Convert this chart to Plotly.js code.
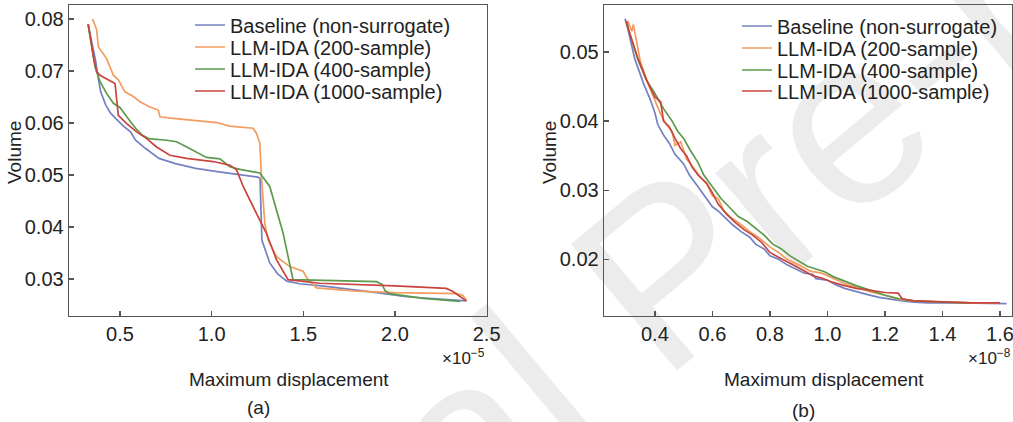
<!DOCTYPE html>
<html>
<head>
<meta charset="utf-8">
<script src="https://cdn.plot.ly/plotly-3.0.1.min.js"></script>
<style>html,body{margin:0;padding:0;background:#fff;}#chart{width:1013px;height:422px;}</style>
</head>
<body>
<div id="chart"></div>
<script>
// ---------- Data (x in units of the axis multiplier) ----------
const seriesNames = ["Baseline (non-surrogate)", "LLM-IDA (200-sample)", "LLM-IDA (400-sample)", "LLM-IDA (1000-sample)"];
const seriesColors = ["#7482c2", "#f29c5e", "#5c9b4c", "#c9443d"];

// Panel (a): Maximum displacement ×1e-5 vs Volume
const aBaseX = [0.326,0.368,0.380,0.395,0.422,0.449,0.476,0.522,0.558,0.585,0.640,0.713,0.803,0.913,1.040,1.150,1.252,1.264,1.274,1.317,1.360,1.410,1.481,1.600,1.753,1.900,2.062,2.220,2.391];
const aBaseY = [0.0790,0.0718,0.0689,0.0660,0.0635,0.0619,0.0609,0.0593,0.0583,0.0567,0.0551,0.0532,0.0522,0.0513,0.0506,0.0501,0.0496,0.0494,0.0375,0.0331,0.0310,0.0296,0.0291,0.0287,0.0281,0.0274,0.0266,0.0262,0.0258];

const a200X = [0.351,0.373,0.382,0.427,0.464,0.491,0.527,0.573,0.609,0.663,0.709,0.718,0.790,0.936,1.027,1.099,1.226,1.245,1.263,1.272,1.290,1.308,1.354,1.426,1.499,1.526,1.572,1.790,2.000,2.340,2.372,2.391];
const a200Y = [0.0800,0.0779,0.0747,0.0724,0.0692,0.0683,0.0660,0.0651,0.0641,0.0631,0.0625,0.0612,0.0609,0.0604,0.0601,0.0594,0.0590,0.0580,0.0561,0.0495,0.0407,0.0375,0.0343,0.0324,0.0315,0.0299,0.0283,0.0277,0.0274,0.0272,0.0268,0.0258];

const a400X = [0.326,0.364,0.391,0.427,0.464,0.500,0.537,0.585,0.621,0.658,0.754,0.809,0.864,0.936,0.972,1.045,1.099,1.154,1.263,1.317,1.390,1.444,1.600,1.899,1.930,1.945,1.970,2.153,2.356];
const a400Y = [0.0790,0.0708,0.0680,0.0657,0.0638,0.0630,0.0612,0.0590,0.0577,0.0570,0.0567,0.0564,0.0554,0.0540,0.0534,0.0531,0.0516,0.0511,0.0504,0.0478,0.0388,0.0299,0.0298,0.0295,0.0290,0.0278,0.0272,0.0263,0.0257];

const a1000X = [0.327,0.355,0.373,0.391,0.473,0.482,0.491,0.537,0.591,0.646,0.700,0.772,0.864,1.008,1.100,1.136,1.172,1.245,1.299,1.354,1.417,1.590,2.000,2.280,2.316,2.389];
const a1000Y = [0.0790,0.0728,0.0699,0.0692,0.0676,0.0644,0.0615,0.0599,0.0583,0.0570,0.0554,0.0538,0.0532,0.0526,0.0519,0.0510,0.0478,0.0426,0.0388,0.0337,0.0299,0.0292,0.0287,0.0282,0.0276,0.0258];

// Panel (b): Maximum displacement ×1e-8 vs Volume
const bBaseX = [0.296,0.305,0.330,0.360,0.385,0.400,0.410,0.430,0.450,0.470,0.500,0.520,0.550,0.580,0.600,0.620,0.650,0.670,0.700,0.730,0.750,0.780,0.800,0.830,0.860,0.890,0.920,0.950,0.960,1.000,1.030,1.060,1.100,1.140,1.180,1.220,1.260,1.300,1.350,1.450,1.550,1.623];
const bBaseY = [0.0548,0.0535,0.0490,0.0455,0.0430,0.0412,0.0395,0.0380,0.0368,0.0352,0.0338,0.0322,0.0305,0.0288,0.0276,0.0270,0.0258,0.0250,0.0240,0.0232,0.0222,0.0215,0.0205,0.0200,0.0192,0.0186,0.0180,0.0178,0.0172,0.0170,0.0163,0.0158,0.0153,0.0149,0.0145,0.0142,0.0140,0.0138,0.0137,0.0137,0.0136,0.0136];

const b200X = [0.305,0.320,0.325,0.350,0.380,0.400,0.420,0.440,0.460,0.470,0.490,0.510,0.530,0.560,0.580,0.600,0.620,0.640,0.660,0.700,0.730,0.760,0.800,0.830,0.860,0.900,0.940,0.980,1.020,1.060,1.100,1.150,1.200,1.250,1.300,1.400,1.500,1.600];
const b200Y = [0.0545,0.0530,0.0540,0.0485,0.0450,0.0430,0.0410,0.0395,0.0385,0.0365,0.0370,0.0345,0.0335,0.0318,0.0310,0.0292,0.0288,0.0270,0.0262,0.0250,0.0240,0.0232,0.0218,0.0210,0.0200,0.0192,0.0183,0.0180,0.0172,0.0165,0.0160,0.0153,0.0148,0.0142,0.0140,0.0138,0.0137,0.0137];

const b400X = [0.300,0.310,0.340,0.370,0.400,0.430,0.460,0.480,0.500,0.520,0.550,0.570,0.600,0.630,0.660,0.690,0.720,0.750,0.780,0.810,0.840,0.870,0.900,0.930,0.960,0.990,1.020,1.060,1.100,1.150,1.200,1.250,1.300,1.400,1.500];
const b400Y = [0.0545,0.0530,0.0490,0.0460,0.0440,0.0418,0.0400,0.0385,0.0375,0.0360,0.0340,0.0322,0.0305,0.0288,0.0275,0.0262,0.0255,0.0245,0.0235,0.0222,0.0215,0.0205,0.0198,0.0190,0.0186,0.0182,0.0175,0.0168,0.0162,0.0155,0.0148,0.0143,0.0140,0.0138,0.0137];

const b1000X = [0.300,0.310,0.340,0.370,0.400,0.420,0.430,0.450,0.470,0.490,0.510,0.530,0.550,0.580,0.600,0.620,0.650,0.680,0.710,0.740,0.770,0.800,0.830,0.860,0.890,0.920,0.950,0.980,1.010,1.050,1.100,1.150,1.200,1.246,1.260,1.300,1.400,1.500,1.600];
const b1000Y = [0.0545,0.0530,0.0492,0.0460,0.0435,0.0428,0.0400,0.0392,0.0375,0.0360,0.0350,0.0333,0.0322,0.0310,0.0296,0.0280,0.0265,0.0253,0.0243,0.0235,0.0225,0.0210,0.0203,0.0197,0.0190,0.0183,0.0176,0.0173,0.0168,0.0163,0.0158,0.0155,0.0152,0.0151,0.0143,0.0140,0.0138,0.0137,0.0137];

const aTickVals = [0.5, 1.0, 1.5, 2.0, 2.5];
const bTickVals = [0.4, 0.6, 0.8, 1.0, 1.2, 1.4, 1.6];
const aYTickVals = [0.03, 0.04, 0.05, 0.06, 0.07, 0.08];
const bYTickVals = [0.02, 0.03, 0.04, 0.05];

// ---------- Build ----------
const W = 1013, H = 422;
const px = v => v / W, py = v => 1 - v / H;
const FONT = "Liberation Sans, Arial, Helvetica, sans-serif";

const panelA = [[aBaseX,aBaseY],[a200X,a200Y],[a400X,a400Y],[a1000X,a1000Y]];
const panelB = [[bBaseX,bBaseY],[b200X,b200Y],[b400X,b400Y],[b1000X,b1000Y]];

const legendRowsA = [25, 47, 69, 91];
const legendRowsB = [26, 48, 70, 91];

const traces = [];
const layout = {
  width: W, height: H,
  margin: {l:0, r:0, t:0, b:0, pad:0},
  paper_bgcolor: "#ffffff",
  plot_bgcolor: "rgba(0,0,0,0)",
  font: {family: FONT, size: 18, color: "#222"},
  showlegend: true,
  annotations: [],
  shapes: []
};

panelA.forEach((d, i) => {
  const lg = i === 0 ? "legend" : "legend" + (i + 1);
  traces.push({x: d[0], y: d[1], type: "scatter", mode: "lines", name: seriesNames[i],
    line: {color: seriesColors[i], width: 1.7}, xaxis: "x", yaxis: "y", legend: lg, hoverinfo: "skip"});
  layout[lg] = {x: px(190), y: py(legendRowsA[i]), xanchor: "left", yanchor: "middle",
    bgcolor: "rgba(0,0,0,0)", borderwidth: 0, font: {family: FONT, size: 20, color: "#222"}};
});
panelB.forEach((d, i) => {
  const lg = "legend" + (i + 5);
  traces.push({x: d[0], y: d[1], type: "scatter", mode: "lines", name: seriesNames[i],
    line: {color: seriesColors[i], width: 1.7}, xaxis: "x2", yaxis: "y2", legend: lg, hoverinfo: "skip"});
  layout[lg] = {x: px(737), y: py(legendRowsB[i]), xanchor: "left", yanchor: "middle",
    bgcolor: "rgba(0,0,0,0)", borderwidth: 0, font: {family: FONT, size: 20, color: "#222"}};
});

const axisCommon = {
  ticks: "inside", ticklen: 5, tickwidth: 1.3, tickcolor: "#555",
  showline: true, linecolor: "#555", linewidth: 1.3, mirror: true,
  showgrid: false, zeroline: false, fixedrange: true,
  ticklabeloverflow: "allow",
  tickfont: {family: FONT, size: 20, color: "#222"}
};
const yDom = [py(316), py(5)];
layout.xaxis  = Object.assign({}, axisCommon, {domain: [px(69), px(487)], range: [0.222, 2.502], tickvals: aTickVals, tickformat: ".1f", anchor: "y"});
layout.yaxis  = Object.assign({}, axisCommon, {domain: yDom, range: [0.0229, 0.0827], tickvals: aYTickVals, tickformat: ".2f", anchor: "x"});
layout.xaxis2 = Object.assign({}, axisCommon, {domain: [px(604), px(1012)], range: [0.223, 1.642], tickvals: bTickVals, tickformat: ".1f", anchor: "y2"});
layout.yaxis2 = Object.assign({}, axisCommon, {domain: yDom, range: [0.0118, 0.0568], tickvals: bYTickVals, tickformat: ".2f", anchor: "x2"});

const ann = (text, x, y, opts) => Object.assign({text, x: px(x), y: py(y), xref: "paper", yref: "paper",
  showarrow: false, xanchor: "center", yanchor: "middle", font: {family: FONT, size: 19, color: "#222"}}, opts || {});
layout.annotations.push(
  ann("Volume", 14, 153, {textangle: -90}),
  ann("Volume", 549, 153, {textangle: -90}),
  ann("Maximum displacement", 289, 379),
  ann("Maximum displacement", 824, 379),
  ann("(a)", 258, 407),
  ann("(b)", 803, 410),
  ann("×10<sup>−5</sup>", 487, 357, {xanchor: "right", font: {family: FONT, size: 17, color: "#222"}}),
  ann("×10<sup>−8</sup>", 1013, 357, {xanchor: "right", font: {family: FONT, size: 17, color: "#222"}})
);

// faint diagonal watermark behind the plots
layout.shapes.push({type: "rect", xref: "paper", yref: "paper", x0: px(620), x1: px(680), y0: py(280), y1: py(230),
  line: {width: 0}, fillcolor: "rgba(0,0,0,0)", layer: "below",
  label: {text: "Journal Pre-proof", textangle: -40, textposition: "middle center",
    font: {family: FONT, size: 240, color: "#ececec"}}});

Plotly.newPlot("chart", traces, layout, {displayModeBar: false, staticPlot: true});
</script>
</body>
</html>
